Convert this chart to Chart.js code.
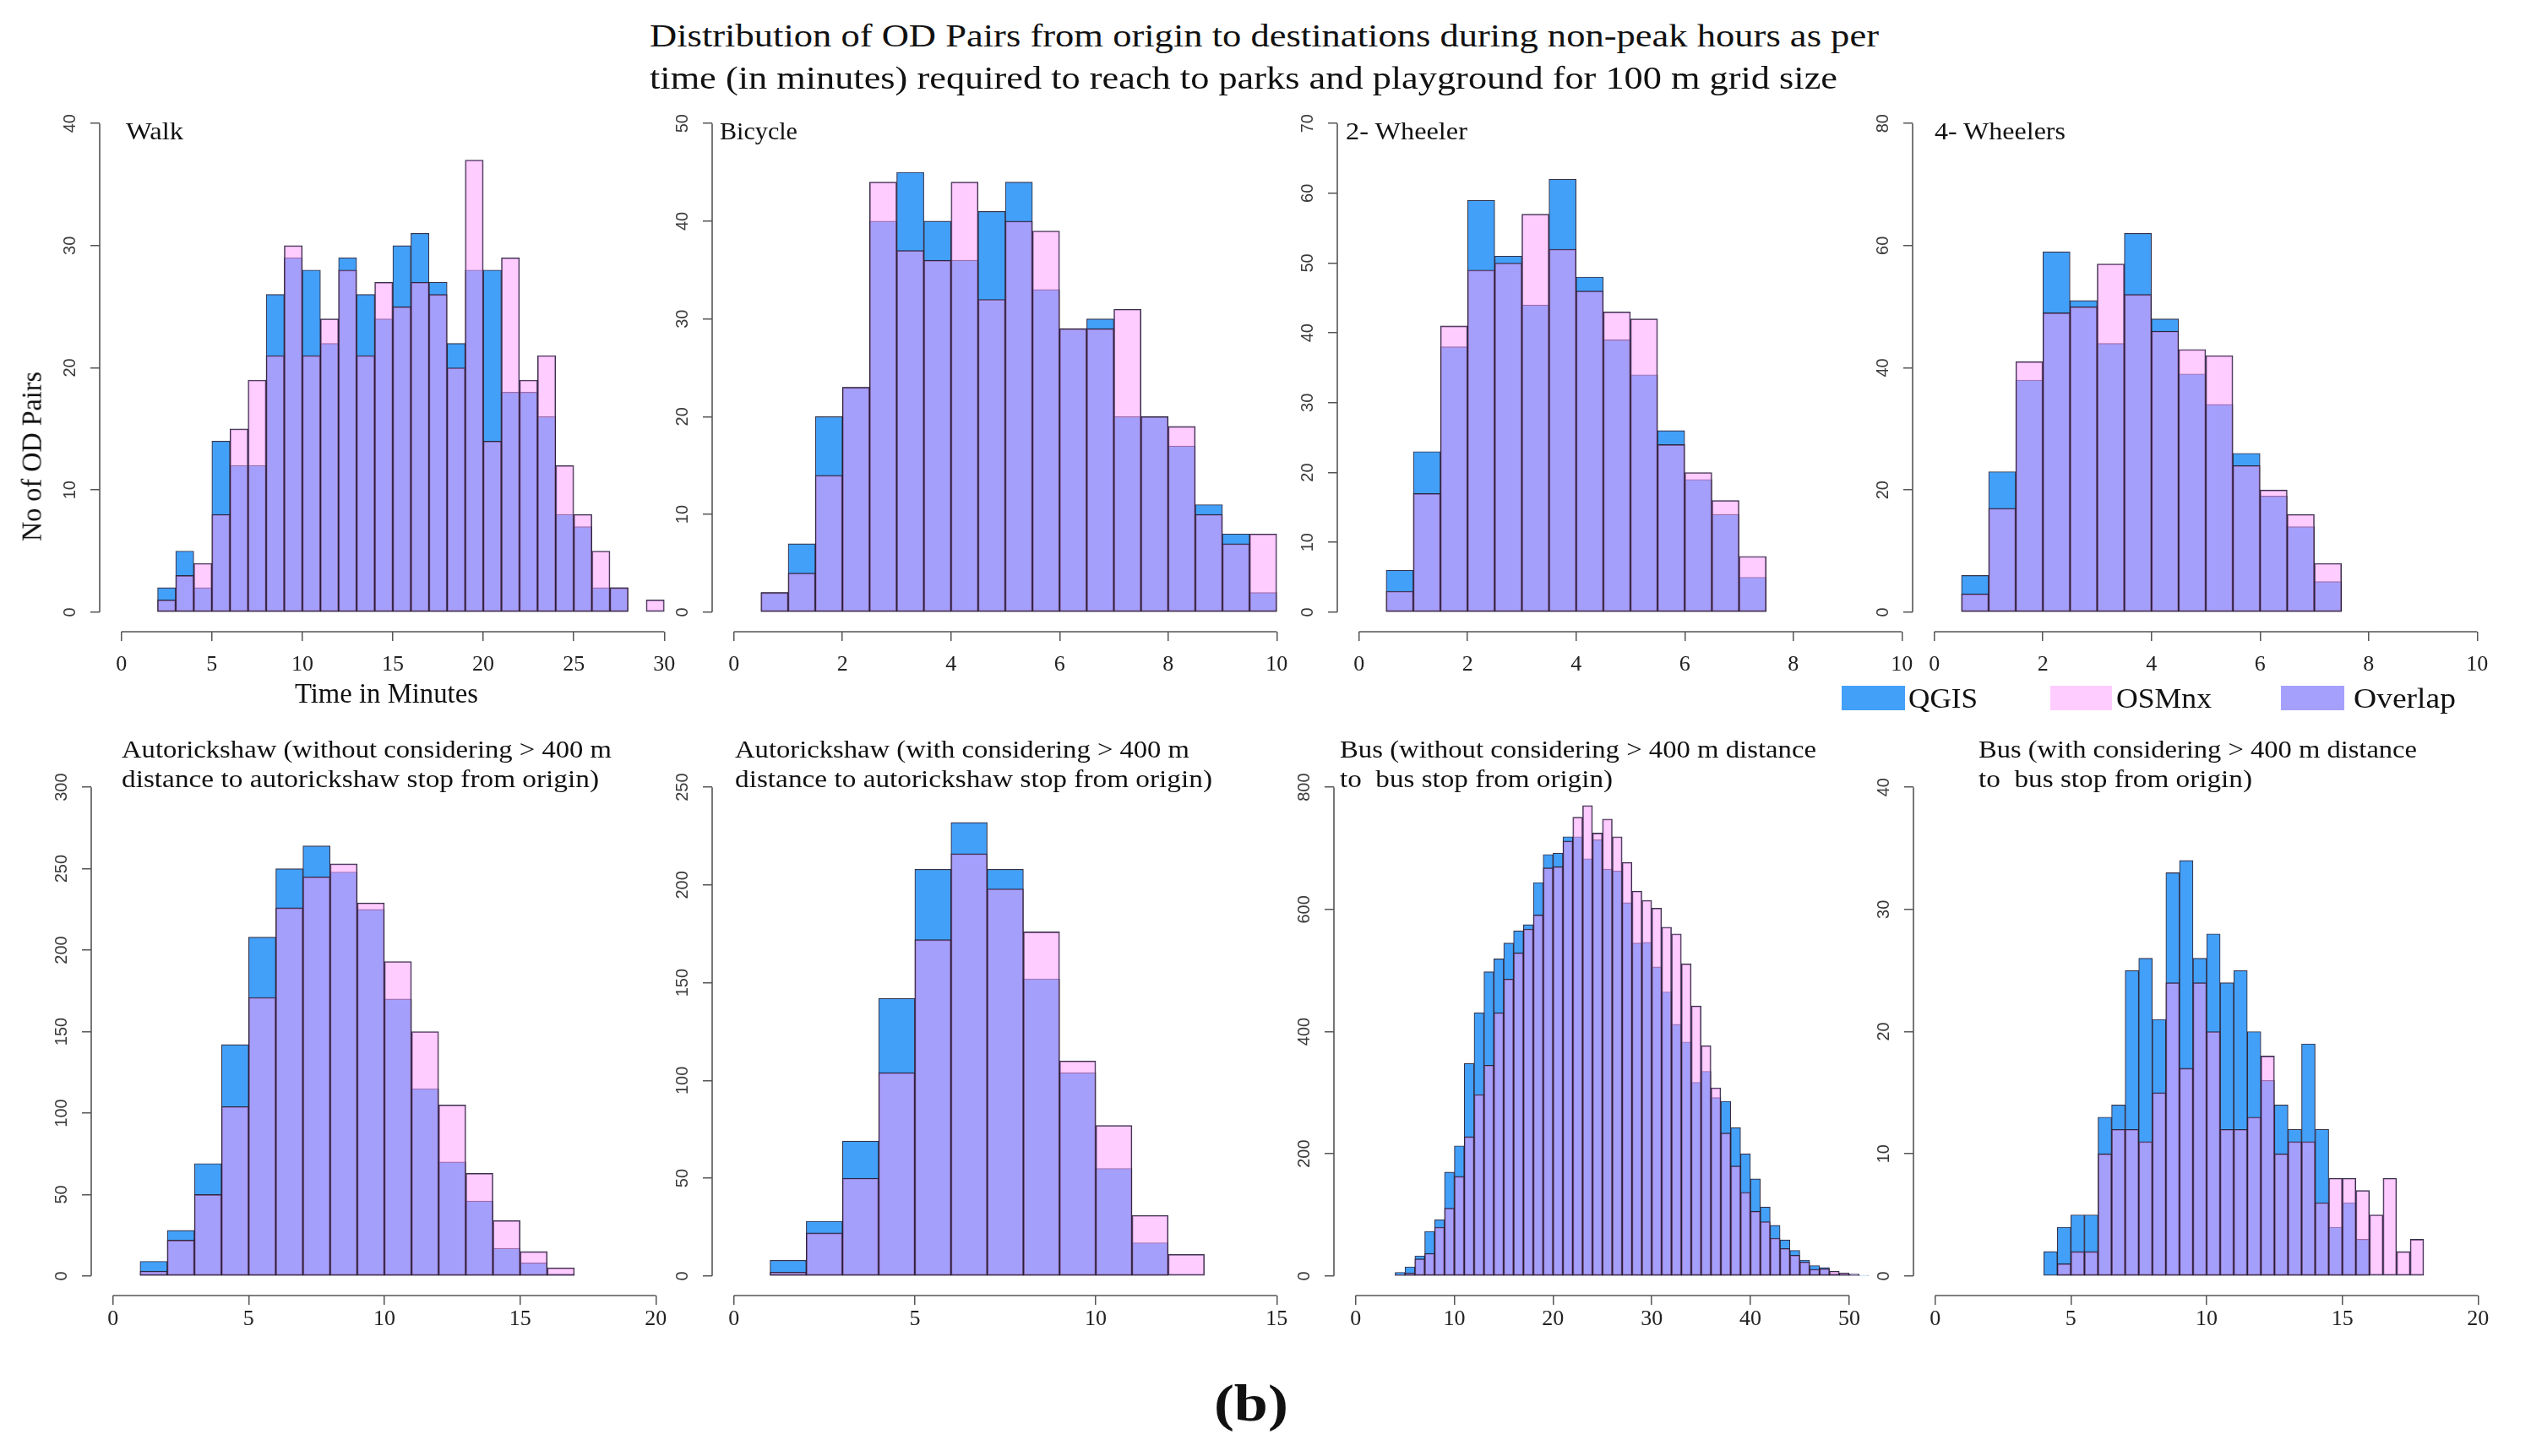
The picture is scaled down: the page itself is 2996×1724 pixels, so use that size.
<!DOCTYPE html>
<html><head><meta charset="utf-8">
<script src="https://cdn.jsdelivr.net/npm/chart.js@4.4.1/dist/chart.umd.min.js"></script>
<style>
html,body{margin:0;padding:0;background:#fff;}
#fig{position:relative;width:2996px;height:1724px;overflow:hidden;background:#fff;font-family:"Liberation Serif","DejaVu Serif",serif;color:#111;}
.t{position:absolute;white-space:pre;line-height:1;}
canvas{position:absolute;}
.sw{position:absolute;}
</style></head><body><div id="fig"></div>
<script>
// ---------------- DATA ----------------
const seriesNames = ['QGIS','OSMnx','Overlap'];

const walkBins   = [2.5,3.5,4.5,5.5,6.5,7.5,8.5,9.5,10.5,11.5,12.5,13.5,14.5,15.5,16.5,17.5,18.5,19.5,20.5,21.5,22.5,23.5,24.5,25.5,26.5,27.5,28.5,29.5];
const walkQGIS   = [2,5,2,14,12,12,26,29,28,22,29,26,24,30,31,27,22,28,28,18,18,16,8,7,2,2,0,0];
const walkOSMnx  = [1,3,4,8,15,19,21,30,21,24,28,21,27,25,27,26,20,37,14,29,19,21,12,8,5,2,0,1];
const walkXTicks = [0,5,10,15,20,25,30];
const walkYTicks = [0,10,20,30,40];
const walkXRange = [0,30];

const bicycleBins  = [0.75,1.25,1.75,2.25,2.75,3.25,3.75,4.25,4.75,5.25,5.75,6.25,6.75,7.25,7.75,8.25,8.75,9.25,9.75];
const bicycleQGIS  = [2,7,20,23,40,45,40,36,41,44,33,29,30,20,20,17,11,8,2];
const bicycleOSMnx = [2,4,14,23,44,37,36,44,32,40,39,29,29,31,20,19,10,7,8];
const bicycleXTicks = [0,2,4,6,8,10];
const bicycleYTicks = [0,10,20,30,40,50];
const bicycleXRange = [0,10];

const twoWBins  = [0.75,1.25,1.75,2.25,2.75,3.25,3.75,4.25,4.75,5.25,5.75,6.25,6.75,7.25];
const twoWQGIS  = [6,23,38,59,51,44,62,48,39,34,26,19,14,5];
const twoWOSMnx = [3,17,41,49,50,57,52,46,43,42,24,20,16,8];
const twoWXTicks = [0,2,4,6,8,10];
const twoWYTicks = [0,10,20,30,40,50,60,70];
const twoWXRange = [0,10];

const fourWBins  = [0.75,1.25,1.75,2.25,2.75,3.25,3.75,4.25,4.75,5.25,5.75,6.25,6.75,7.25];
const fourWQGIS  = [6,23,38,59,51,44,62,48,39,34,26,19,14,5];
const fourWOSMnx = [3,17,41,49,50,57,52,46,43,42,24,20,16,8];
const fourWXTicks = [0,2,4,6,8,10];
const fourWYTicks = [0,20,40,60,80];
const fourWXRange = [0,10];

const autoWoBins  = [1.5,2.5,3.5,4.5,5.5,6.5,7.5,8.5,9.5,10.5,11.5,12.5,13.5,14.5,15.5,16.5];
const autoWoQGIS  = [9,28,69,142,208,250,264,248,225,170,115,70,46,17,8,1];
const autoWoOSMnx = [3,22,50,104,171,226,245,253,229,193,150,105,63,34,15,5];
const autoWoXTicks = [0,5,10,15,20];
const autoWoYTicks = [0,50,100,150,200,250,300];
const autoWoXRange = [0,20];

const autoWBins  = [1.5,2.5,3.5,4.5,5.5,6.5,7.5,8.5,9.5,10.5,11.5,12.5];
const autoWQGIS  = [8,28,69,142,208,232,208,152,104,55,17,0];
const autoWOSMnx = [2,22,50,104,172,216,198,176,110,77,31,11];
const autoWXTicks = [0,5,10,15];
const autoWYTicks = [0,50,100,150,200,250];
const autoWXRange = [0,15];

const busWoBins  = [4.5,5.5,6.5,7.5,8.5,9.5,10.5,11.5,12.5,13.5,14.5,15.5,16.5,17.5,18.5,19.5,20.5,21.5,22.5,23.5,24.5,25.5,26.5,27.5,28.5,29.5,30.5,31.5,32.5,33.5,34.5,35.5,36.5,37.5,38.5,39.5,40.5,41.5,42.5,43.5,44.5,45.5,46.5,47.5,48.5,49.5,50.5,51.5];
const busWoQGIS  = [6,15,33,73,92,170,213,348,431,498,519,545,565,575,644,690,692,719,719,683,714,666,663,611,545,546,506,465,412,383,317,335,292,286,243,200,159,113,83,59,42,26,17,14,4,2,2,1];
const busWoOSMnx = [2,5,28,37,80,111,163,228,297,345,431,486,529,568,591,668,670,712,751,770,725,748,719,677,630,615,602,571,560,511,442,377,308,234,180,137,106,89,62,45,34,23,11,12,8,5,3,0];
const busWoXTicks = [0,10,20,30,40,50];
const busWoYTicks = [0,200,400,600,800];
const busWoXRange = [0,55];

const busWBins  = [4.25,4.75,5.25,5.75,6.25,6.75,7.25,7.75,8.25,8.75,9.25,9.75,10.25,10.75,11.25,11.75,12.25,12.75,13.25,13.75,14.25,14.75,15.25,15.75,16.25,16.75,17.25,17.75];
const busWQGIS  = [2,4,5,5,13,14,25,26,21,33,34,26,28,24,25,20,16,14,12,19,12,4,6,3,0,0,0,0];
const busWOSMnx = [0,1,2,2,10,12,12,11,15,24,17,24,20,12,12,13,18,10,11,11,6,8,8,7,5,8,2,3];
const busWXTicks = [0,5,10,15,20];
const busWYTicks = [0,10,20,30,40];
const busWXRange = [0,20];

// ---------------- STYLE / LAYOUT ----------------
const C_QGIS = 'rgb(66,160,248)';
const C_OSM_T = 'rgba(255,158,255,0.524)';   // translucent pink -> purple where overlapping
const C_OSM = 'rgb(255,204,255)';
const C_OVL = 'rgb(165,160,252)';
const BORDER = 'rgba(36,32,56,0.92)';
const PW = 694, PH = 625, YW = 70, XH = 70, PT = 10, PR = 10;

const fig = document.getElementById('fig');

const rAxes = {
  id: 'rAxes',
  afterDraw(chart) {
    const {ctx, chartArea, scales: {x, y}} = chart;
    const xt = x.ticks, yt = y.ticks;
    ctx.save();
    ctx.strokeStyle = '#555'; ctx.lineWidth = 1.6;
    ctx.beginPath();
    ctx.moveTo(chartArea.left, y.getPixelForValue(yt[0].value));
    ctx.lineTo(chartArea.left, y.getPixelForValue(yt[yt.length - 1].value));
    ctx.moveTo(x.getPixelForValue(xt[0].value), chartArea.bottom);
    ctx.lineTo(x.getPixelForValue(xt[xt.length - 1].value), chartArea.bottom);
    ctx.stroke();
    ctx.fillStyle = '#3a3a3a';
    ctx.font = '20px "Liberation Sans", Arial, sans-serif';
    ctx.textAlign = 'center'; ctx.textBaseline = 'middle';
    for (const t of yt) {
      const py = y.getPixelForValue(t.value);
      ctx.save(); ctx.translate(chartArea.left - 35, py); ctx.rotate(-Math.PI / 2);
      ctx.fillText(String(t.value), 0, 0); ctx.restore();
    }
    ctx.restore();
  }
};

function panel(L, T, bins, q, o, xTicks, yTicks, xRange, labPad) {
  const cv = document.createElement('canvas');
  const W = YW + PW + PR, H = PT + PH + XH;
  cv.width = W; cv.height = H;
  cv.style.left = (L - YW) + 'px'; cv.style.top = (T - PT) + 'px';
  cv.style.width = W + 'px'; cv.style.height = H + 'px';
  fig.appendChild(cv);
  const xr = xRange[1] - xRange[0];
  const ymax = yTicks[yTicks.length - 1];
  const common = { borderColor: BORDER, borderWidth: 1.15, borderSkipped: false, grouped: false,
                   barPercentage: 1, categoryPercentage: 1 };
  new Chart(cv, {
    type: 'bar',
    data: {
      datasets: [
        Object.assign({ label: seriesNames[0], order: 1, backgroundColor: C_QGIS,
          data: bins.map((b, i) => ({x: b, y: q[i]})) }, common),
        Object.assign({ label: seriesNames[1], order: 0, backgroundColor: C_OSM_T,
          data: bins.map((b, i) => ({x: b, y: o[i]})) }, common)
      ]
    },
    options: {
      responsive: false, animation: false, events: [],
      layout: { padding: { top: PT, right: PR, left: 0, bottom: 0 } },
      plugins: { legend: { display: false }, tooltip: { enabled: false }, title: { display: false } },
      scales: {
        x: {
          type: 'linear', offset: false,
          min: xRange[0] - 0.04 * xr, max: xRange[1] + 0.04 * xr,
          afterBuildTicks: s => { s.ticks = xTicks.map(v => ({value: v})); },
          afterFit: s => { s.height = XH; },
          grid: { offset: false, drawOnChartArea: false, drawTicks: true, tickLength: 11, color: '#555', lineWidth: 1.5 },
          border: { display: false },
          ticks: { maxRotation: 0, minRotation: 0, autoSkip: false, padding: labPad, color: '#222',
                   font: { family: '"Liberation Serif", serif', size: 26 } }
        },
        y: {
          type: 'linear',
          min: -0.04 * ymax, max: 1.04 * ymax,
          afterBuildTicks: s => { s.ticks = yTicks.map(v => ({value: v})); },
          afterFit: s => { s.width = YW; },
          grid: { drawOnChartArea: false, drawTicks: true, tickLength: 11, color: '#555', lineWidth: 1.5 },
          border: { display: false },
          ticks: { display: false }
        }
      }
    },
    plugins: [rAxes]
  });
}

// row 1
panel(118, 123, walkBins, walkQGIS, walkOSMnx, walkXTicks, walkYTicks, walkXRange, 13);
panel(843, 123, bicycleBins, bicycleQGIS, bicycleOSMnx, bicycleXTicks, bicycleYTicks, bicycleXRange, 13);
panel(1583, 123, twoWBins, twoWQGIS, twoWOSMnx, twoWXTicks, twoWYTicks, twoWXRange, 13);
panel(2264, 123, fourWBins, fourWQGIS, fourWOSMnx, fourWXTicks, fourWYTicks, fourWXRange, 13);
// row 2
panel(108, 909, autoWoBins, autoWoQGIS, autoWoOSMnx, autoWoXTicks, autoWoYTicks, autoWoXRange, 2);
panel(843, 909, autoWBins, autoWQGIS, autoWOSMnx, autoWXTicks, autoWYTicks, autoWXRange, 2);
panel(1579, 909, busWoBins, busWoQGIS, busWoOSMnx, busWoXTicks, busWoYTicks, busWoXRange, 2);
panel(2265, 909, busWBins, busWQGIS, busWOSMnx, busWXTicks, busWYTicks, busWXRange, 2);

// ---------------- TEXT ----------------
function txt(str, x, cy, size, w, opt) {
  opt = opt || {};
  const d = document.createElement('div');
  d.className = 't'; d.textContent = str;
  d.style.fontSize = size + 'px';
  if (opt.bold) d.style.fontWeight = 'bold';
  fig.appendChild(d);
  const r = d.getBoundingClientRect();
  const sx = w ? w / r.width : 1;
  if (opt.rot) {
    d.style.left = (x - r.width / 2) + 'px';
    d.style.top = (cy - r.height / 2) + 'px';
    d.style.transformOrigin = '50% 50%';
    d.style.transform = 'rotate(-90deg) scaleX(' + sx + ')';
  } else if (opt.center) {
    d.style.left = (x - r.width / 2) + 'px';
    d.style.top = (cy - r.height / 2) + 'px';
    d.style.transformOrigin = '50% 50%';
    d.style.transform = 'scaleX(' + sx + ')';
  } else {
    d.style.left = x + 'px';
    d.style.top = (cy - r.height / 2) + 'px';
    d.style.transformOrigin = '0 50%';
    d.style.transform = 'scaleX(' + sx + ')';
  }
  return d;
}

txt('Distribution of OD Pairs from origin to destinations during non-peak hours as per', 769, 42, 38, 1455);
txt('time (in minutes) required to reach to parks and playground for 100 m grid size', 769, 92, 38, 1406);

txt('Walk', 149, 155, 29, 68);
txt('Bicycle', 852, 155, 29, 92);
txt('2- Wheeler', 1593, 155, 29, 144);
txt('4- Wheelers', 2290, 155, 29, 155);

txt('Autorickshaw (without considering > 400 m', 144, 887, 30, 580);
txt('distance to autorickshaw stop from origin)', 144, 922, 30, 565);
txt('Autorickshaw (with considering > 400 m', 870, 887, 30, 538);
txt('distance to autorickshaw stop from origin)', 870, 922, 30, 565);
txt('Bus (without considering > 400 m distance', 1586, 887, 30, 564);
txt('to  bus stop from origin)', 1586, 922, 30, 323);
txt('Bus (with considering > 400 m distance', 2342, 887, 30, 519);
txt('to  bus stop from origin)', 2342, 922, 30, 324);

txt('Time in Minutes', 457, 821, 33, 217, {center: true});
txt('No of OD Pairs', 38, 540, 33, 201, {rot: true});

// legend
function swatch(x0, x1, color) {
  const s = document.createElement('div'); s.className = 'sw';
  s.style.left = x0 + 'px'; s.style.top = '812px';
  s.style.width = (x1 - x0) + 'px'; s.style.height = '29px';
  s.style.background = color; fig.appendChild(s);
}
swatch(2180, 2255, C_QGIS);  txt(seriesNames[0], 2259, 827, 34, 82);
swatch(2427, 2500, C_OSM);   txt(seriesNames[1], 2505, 827, 34, 113);
swatch(2700, 2775, C_OVL);   txt(seriesNames[2], 2786, 827, 34, 121);

txt('(b)', 1481, 1661, 62, 88, {center: true, bold: true});
</script>
</body></html>
